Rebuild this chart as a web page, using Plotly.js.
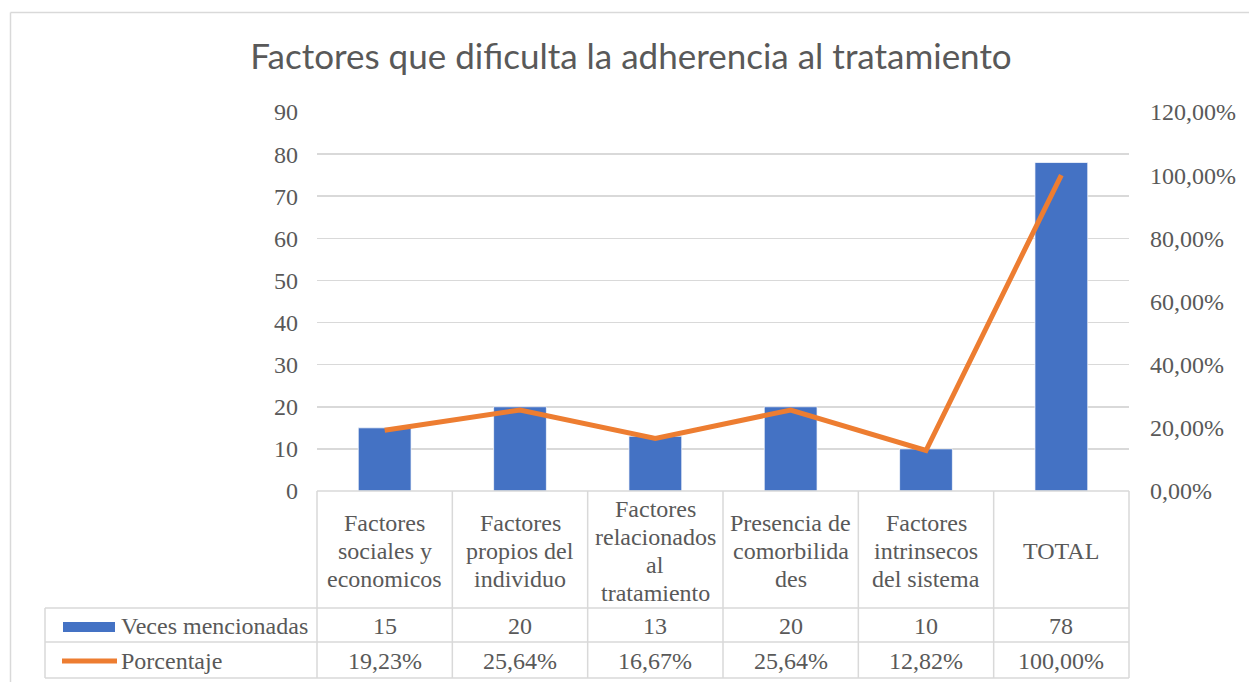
<!DOCTYPE html>
<html>
<head>
<meta charset="utf-8">
<script src="https://cdn.plot.ly/plotly-3.0.1.min.js"></script>
<style>html,body{margin:0;padding:0;background:#fff;}#chart{width:1249px;height:682px;}</style>
</head>
<body>
<div id="chart"></div>
<script>
var titleText = "Factores que dificulta la adherencia al tratamiento";
var categories = [
  ["Factores", "sociales y", "economicos"],
  ["Factores", "propios del", "individuo"],
  ["Factores", "relacionados", "al", "tratamiento"],
  ["Presencia de", "comorbilida", "des"],
  ["Factores", "intrinsecos", "del sistema"],
  ["TOTAL"]
];
var seriesNames = ["Veces mencionadas", "Porcentaje"];
var vecesMencionadas = [15, 20, 13, 20, 10, 78];
var porcentaje = [0.1923, 0.2564, 0.1667, 0.2564, 0.1282, 1.0];
var leftTicks = [0, 10, 20, 30, 40, 50, 60, 70, 80, 90];
var rightTicks = [0, 0.2, 0.4, 0.6, 0.8, 1.0, 1.2];

// figure geometry (pixels)
var W = 1249, H = 682;
var PL = 317, PR = 1129, PT = 112, PB = 491;
function px(x){ return (x - PL) / (PR - PL); }
function py(y){ return (PB - y) / (PB - PT); }

var xIdx = categories.map(function(_, i){ return i; });
var BLUE = "#4472C4", ORANGE = "#ED7D31", GRID = "#d9d9d9", TXT = "#595959";
var SERIF = "Liberation Serif, Times New Roman, serif";
var FS = 24;

function fmtPct(v){ return (v * 100).toFixed(2).replace(".", ",") + "%"; }

var traces = [
  {type: "bar", x: xIdx, y: vecesMencionadas, name: seriesNames[0], width: 0.39,
   marker: {color: BLUE, line: {color: "rgba(255,255,255,0.7)", width: 1}}, hoverinfo: "skip"},
  {type: "scatter", mode: "lines", x: xIdx, y: porcentaje, yaxis: "y2", name: seriesNames[1],
   line: {color: ORANGE, width: 5}, hoverinfo: "skip"}
];

var shapes = [];
var annotations = [];
function hline(x0, x1, y){ shapes.push({type:"line", xref:"paper", yref:"paper", x0:px(x0), x1:px(x1), y0:py(y), y1:py(y), line:{color:GRID, width:1.5}}); }
function vline(x, y0, y1){ shapes.push({type:"line", xref:"paper", yref:"paper", x0:px(x), x1:px(x), y0:py(y0), y1:py(y1), line:{color:GRID, width:1.5}}); }
function txt(xref, x, y, s, anchor){
  annotations.push({xref:xref, yref:"paper", x:x, y:py(y), text:s, showarrow:false,
    xanchor:anchor || "center", yanchor:"middle", font:{family:SERIF, size:FS, color:TXT}});
}

// outer chart border (top and left visible)
hline(10.5, 1260, 12.5);
vline(10.5, 12.5, 700);

// data table grid
var rowTop = 491, rowH1 = 608, rowH2 = 642, rowBot = 678, legLeft = 45;
hline(PL, PR, rowTop);
hline(legLeft, PR, rowH1);
hline(legLeft, PR, rowH2);
hline(legLeft, PR, rowBot);
vline(legLeft, rowH1, rowBot);
for (var i = 0; i <= categories.length; i++) {
  var xb = PL + (PR - PL) * i / categories.length;
  vline(xb, rowTop, rowBot);
}

// category headers (one annotation per line, 28px spacing) + values
var LINE = 28, headCenter = (rowTop + rowH1) / 2 + 1;
categories.forEach(function(lines, i){
  var n = lines.length;
  lines.forEach(function(s, k){
    txt("x", i, headCenter + (k - (n - 1) / 2) * LINE, s);
  });
  txt("x", i, (rowH1 + rowH2) / 2 + 1, String(vecesMencionadas[i]));
  txt("x", i, (rowH2 + rowBot) / 2 + 1, fmtPct(porcentaje[i]));
});

// legend keys in table
shapes.push({type:"rect", xref:"paper", yref:"paper", x0:px(63), x1:px(115), y0:py(632), y1:py(622), fillcolor:BLUE, line:{width:0}});
shapes.push({type:"line", xref:"paper", yref:"paper", x0:px(62), x1:px(117), y0:py(661), y1:py(661), line:{color:ORANGE, width:5}});
txt("paper", px(119), (rowH1 + rowH2) / 2 + 1, seriesNames[0], "left");
txt("paper", px(119), (rowH2 + rowBot) / 2 + 1, seriesNames[1], "left");

var layout = {
  width: W, height: H,
  margin: {l: PL, r: W - PR, t: PT, b: H - PB, pad: 0},
  paper_bgcolor: "#fff", plot_bgcolor: "#fff",
  separators: ",.",
  showlegend: false,
  title: {text: titleText, xref: "container", x: 631 / W, xanchor: "center", yref: "container", y: 1 - 57 / H, yanchor: "middle",
          font: {family: "Lato, Open Sans, sans-serif", size: 35, color: TXT}},
  xaxis: {range: [-0.5, categories.length - 0.5], showticklabels: false, showgrid: false, zeroline: false, fixedrange: true},
  yaxis: {range: [0, 90], tickvals: leftTicks, showgrid: true, gridcolor: GRID, gridwidth: 1.5, zeroline: false,
          ticks: "", ticklabelstandoff: 18, tickfont: {family: SERIF, size: FS, color: TXT}},
  yaxis2: {range: [0, 1.2], overlaying: "y", side: "right", tickvals: rightTicks, tickformat: ".2%",
           showgrid: false, zeroline: false, ticks: "", ticklabelstandoff: 20,
           tickfont: {family: SERIF, size: FS, color: TXT}},
  shapes: shapes,
  annotations: annotations
};

Plotly.newPlot("chart", traces, layout, {displayModeBar: false, staticPlot: true});
</script>
</body>
</html>
